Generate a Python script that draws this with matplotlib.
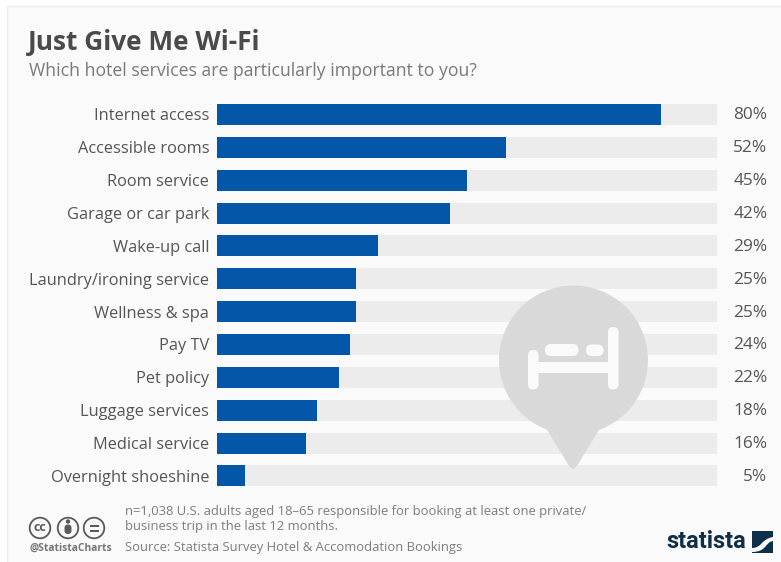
#!/usr/bin/env python3
import matplotlib
matplotlib.use("Agg")
import matplotlib.pyplot as plt
from matplotlib.patches import Circle, FancyBboxPatch, Polygon, Rectangle, PathPatch
from matplotlib.path import Path

services = ["Internet access", "Accessible rooms", "Room service", "Garage or car park",
            "Wake-up call", "Laundry/ironing service", "Wellness & spa", "Pay TV",
            "Pet policy", "Luggage services", "Medical service", "Overnight shoeshine"]
shares = [80, 52, 45, 42, 29, 25, 25, 24, 22, 18, 16, 5]
track_max = 90

W, H = 781, 562
plt.rcParams["font.family"] = ["Open Sans", "DejaVu Sans"]

fig = plt.figure(figsize=(W / 100, H / 100), dpi=100, facecolor="white")


def pill(ax, x0, y0, x1, y1, color):
    r = min(x1 - x0, y1 - y0) / 2
    ax.add_patch(FancyBboxPatch((x0 + r, y0 + r), x1 - x0 - 2 * r, y1 - y0 - 2 * r,
                                boxstyle=f"round,pad={r},rounding_size={r}",
                                fc=color, ec="none"))


# Card behind everything
bg = fig.add_axes([0, 0, 1, 1], zorder=0)
bg.set_xlim(0, W)
bg.set_ylim(H, 0)
bg.axis("off")
bg.add_patch(Rectangle((7, 6), W, H, fc="#fafafa", ec="#eeeeee", lw=1))

# Bars
left, right, top, bottom = 217, 717, 98.0, 492.4
ax = fig.add_axes([left / W, 1 - bottom / H, (right - left) / W, (bottom - top) / H], zorder=1)
ax.patch.set_alpha(0)
y = list(range(len(services)))
ax.barh(y, [track_max] * len(y), height=0.64, color="#ececec")
ax.barh(y, shares, height=0.64, color="#0456a9")
ax.set_xlim(0, track_max)
ax.set_ylim(len(y) - 0.5, -0.5)
ax.set_xticks([])
ax.set_yticks(y)
ax.set_yticklabels(services, fontsize=11.8, color="#555555")
ax.tick_params(axis="y", length=0, pad=5.5)
for s in ax.spines.values():
    s.set_visible(False)
for i, v in enumerate(shares):
    ax.text(99.1, i + 0.03, f"{v}%", ha="right", va="center", fontsize=12.4,
            color="#555555", clip_on=False)

# Everything else is laid out in pixels
ov = fig.add_axes([0, 0, 1, 1], zorder=2)
ov.patch.set_alpha(0)
ov.set_xlim(0, W)
ov.set_ylim(H, 0)
ov.axis("off")

ov.text(28, 43, "Just Give Me Wi-Fi", fontsize=18.9, fontweight="bold", color="#4a4a4a",
        ha="left", va="center")
ov.text(29, 71, "Which hotel services are particularly important to you?", fontsize=12.7,
        color="#7a7a7a", ha="left", va="center")

# Map pin with bed icon
pin = "#d9d9d9"
ov.add_patch(Circle((573.5, 360), 74.5, fc=pin, ec="none"))
ov.add_patch(Polygon([(546, 428), (569, 466), (573, 469.5), (577, 466), (600, 428)],
                     closed=True, fc=pin, ec="none"))
bed = "#fafafa"
pill(ov, 528, 350, 538.5, 389.5, bed)
pill(ov, 608, 327, 618.5, 389.5, bed)
ov.add_patch(Rectangle((536, 362), 74, 11, fc=bed, ec="none"))
pill(ov, 545, 344, 578.5, 356, bed)
pill(ov, 586, 344.5, 603.5, 356, bed)

# Footer notes
note = "#7d7d7d"
ov.text(125, 511.5, "n=1,038 U.S. adults aged 18–65 responsible for booking at least one private/",
        fontsize=9.4, color=note, va="center")
ov.text(125, 526.5, "business trip in the last 12 months.", fontsize=9.4, color=note, va="center")
ov.text(125, 548, "Source: Statista Survey Hotel & Accomodation Bookings", fontsize=9.37,
        color=note, va="center")

# Licence badges
badge = "#5a5a5a"
for cx in (40, 68, 94):
    ov.add_patch(Circle((cx, 528), 10.3, fc="none", ec=badge, lw=1.3))
ov.text(40, 527.5, "cc", fontsize=9, fontweight="bold", color=badge, ha="center", va="center")
ov.add_patch(Circle((68, 521.5), 2.2, fc=badge, ec="none"))
pill(ov, 64.5, 524.5, 71.5, 534, badge)
ov.add_patch(Rectangle((89.5, 524.5), 9, 2, fc=badge, ec="none"))
ov.add_patch(Rectangle((89.5, 529.5), 9, 2, fc=badge, ec="none"))
ov.text(29, 548, "@StatistaCharts", fontsize=7.4, fontweight="bold", color="#777777", va="center")

# Logo
navy = "#0f2e47"
ov.text(666, 542, "statista", fontsize=17, fontweight="bold", color=navy, va="center",
        family=["Roboto", "DejaVu Sans"])
ov.add_patch(Rectangle((752, 531), 21, 22, fc=navy, ec="none"))
swoosh = Path([(752, 548), (762, 548), (761, 539), (773, 537),
               (773, 541), (765, 542), (767, 552), (752, 552), (752, 548)],
              [Path.MOVETO, Path.CURVE4, Path.CURVE4, Path.CURVE4,
               Path.LINETO, Path.CURVE4, Path.CURVE4, Path.CURVE4, Path.CLOSEPOLY])
ov.add_patch(PathPatch(swoosh, fc="#fafafa", ec="none"))

fig.savefig("out.png", dpi=100, facecolor="white")
